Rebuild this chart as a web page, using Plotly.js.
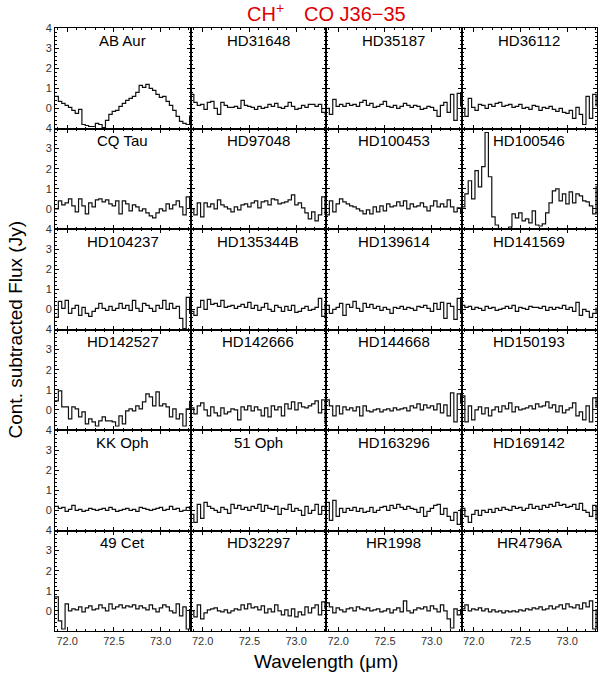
<!DOCTYPE html>
<html>
<head>
<meta charset="utf-8">
<script src="https://cdn.plot.ly/plotly-3.0.1.min.js"></script>
<style>
  body { margin: 0; background: #fff; }
  #plot { width: 600px; height: 681px; }
</style>
</head>
<body>
<div id="plot"></div>
<script>
// Wavelength grid (micron), one sample per spectral bin
var wave = [71.870, 71.906, 71.942, 71.978, 72.014, 72.050, 72.086, 72.122, 72.158, 72.194,
            72.230, 72.266, 72.302, 72.338, 72.374, 72.410, 72.446, 72.482, 72.518, 72.554,
            72.590, 72.626, 72.662, 72.698, 72.734, 72.770, 72.806, 72.842, 72.878, 72.914,
            72.950, 72.986, 73.022, 73.058, 73.094, 73.130, 73.166, 73.202, 73.238, 73.274, 73.310];

// Star names, row by row
var names = ['AB Aur', 'HD31648', 'HD35187', 'HD36112',
             'CQ Tau', 'HD97048', 'HD100453', 'HD100546',
             'HD104237', 'HD135344B', 'HD139614', 'HD141569',
             'HD142527', 'HD142666', 'HD144668', 'HD150193',
             'KK Oph', '51 Oph', 'HD163296', 'HD169142',
             '49 Cet', 'HD32297', 'HR1998', 'HR4796A'];

// Continuum subtracted flux (Jy) for each star
var fABAur = [0.6, 0.35, 0.25, 0.15, 0.05, -0.1, -0.25, -0.05, -0.8, -0.85, -0.9, -0.9, -0.75, -0.8, -0.95, -0.6, -0.3, -0.15, -0.1, 0.1, 0.25, 0.4, 0.5, 0.6, 0.8, 1.15, 1.05, 1.2, 1.0, 0.9, 0.7, 0.55, 0.6, 0.35, 0.15, -0.1, -0.4, -0.65, -0.75, -0.8, -0.35];
var fHD31648 = [0.7, 0.3, 0.15, 0.2, -0.05, 0.3, 0.35, 0.0, -0.3, 0.3, 0.15, 0.05, 0.05, 0.1, 0.0, 0.4, 0.15, 0.1, 0.05, -0.05, 0.1, 0.0, 0.05, 0.2, 0.1, 0.25, 0.05, 0.0, 0.1, 0.3, 0.1, -0.05, 0.0, 0.15, 0.05, 0.2, 0.2, 0.1, 0.2, -0.2, -0.3];
var fHD35187 = [0.0, -0.3, 0.45, 0.1, 0.2, 0.1, 0.25, 0.15, 0.2, 0.1, 0.3, 0.4, 0.15, 0.25, 0.05, 0.1, 0.2, 0.35, 0.1, 0.05, 0.15, 0.0, 0.1, 0.25, 0.15, 0.05, 0.15, 0.1, -0.05, 0.0, 0.1, 0.05, -0.1, -0.4, 0.15, 0.3, -0.2, 0.7, -0.6, 0.75, 0.1];
var fHD36112 = [0.0, -0.4, 0.5, 0.05, -0.1, 0.2, 0.15, 0.0, 0.2, 0.1, 0.25, 0.3, 0.1, 0.15, 0.2, 0.05, 0.1, 0.2, 0.0, 0.05, -0.05, 0.15, 0.1, -0.1, 0.05, 0.0, 0.1, -0.05, -0.15, 0.0, -0.2, -0.25, -0.1, -0.5, 0.05, -0.3, -0.8, 0.6, -0.5, 0.7, 0.1];
var fCQTau = [0.0, 0.4, 0.2, 0.3, 0.5, 0.15, -0.15, 0.5, 0.15, -0.25, 0.3, 0.1, 0.45, 0.5, 0.35, 0.45, 0.25, 0.15, 0.4, -0.25, 0.4, 0.25, -0.1, 0.2, 0.1, -0.1, 0.0, -0.2, -0.35, -0.45, -0.2, 0.0, -0.1, 0.25, 0.0, 0.2, 0.4, 0.1, -0.3, 0.6, 0.0];
var fHD97048 = [0.0, -0.3, 0.3, -0.4, 0.3, 0.1, 0.25, 0.0, 0.45, 0.2, 0.1, 0.0, -0.15, 0.1, -0.05, 0.2, 0.25, 0.1, 0.3, 0.4, 0.05, 0.35, 0.4, 0.2, 0.5, 0.45, 0.25, 0.3, 0.35, 0.45, 0.7, 0.2, 0.3, 0.05, -0.2, -0.5, -0.15, -0.6, -0.3, 0.6, -0.3];
var fHD100453 = [-0.3, 0.4, -0.15, 0.25, 0.5, 0.35, 0.25, 0.15, 0.1, 0.0, -0.1, -0.25, -0.05, -0.25, 0.1, -0.15, 0.15, -0.1, 0.25, 0.1, 0.15, 0.35, 0.15, 0.4, 0.0, 0.25, 0.1, 0.15, 0.3, 0.1, -0.1, 0.15, 0.4, 0.1, 0.25, 0.1, 0.45, 0.1, -0.15, 0.05, -0.25];
var fHD100546 = [0.1, 0.75, 1.4, 0.5, 1.9, 1.1, 2.1, 3.8, 1.6, -0.4, -0.8, -1.0, -1.0, -1.0, -0.9, -0.25, -0.45, -0.2, -0.6, -0.5, -0.7, -0.1, -0.8, -0.85, -0.75, -0.2, 0.3, 0.9, 1.0, 0.4, 0.75, 0.25, 0.85, 0.3, 0.75, 0.65, 0.4, 0.35, 0.15, -0.25, 1.15];
var fHD104237 = [-0.4, 0.4, 0.05, 0.45, -0.2, 0.05, 0.2, -0.3, 0.1, -0.2, -0.35, -0.1, 0.05, 0.3, 0.05, -0.05, 0.15, -0.05, 0.05, 0.3, 0.05, 0.2, -0.05, 0.45, 0.05, -0.1, 0.3, 0.2, 0.05, -0.1, 0.2, 0.05, 0.45, 0.0, 0.3, 0.05, 0.15, -0.45, -0.95, 0.6, -0.2];
var fHD135344B = [-0.1, -0.3, 0.1, 0.45, 0.0, 0.5, 0.25, 0.3, 0.15, 0.45, 0.1, 0.15, 0.2, 0.05, 0.15, 0.25, 0.1, 0.35, 0.05, 0.2, -0.05, 0.1, 0.3, 0.0, -0.1, 0.2, 0.1, -0.1, 0.15, -0.05, 0.2, -0.15, -0.1, 0.05, 0.15, -0.05, 0.0, 0.1, 0.55, -0.35, 0.3];
var fHD139614 = [0.2, -0.2, 0.0, 0.1, 0.3, -0.3, 0.25, 0.1, 0.4, 0.05, -0.1, 0.3, 0.1, 0.25, 0.05, 0.15, -0.05, 0.1, 0.0, -0.2, 0.1, 0.05, 0.15, 0.0, 0.1, 0.05, -0.05, 0.15, 0.1, 0.2, 0.05, -0.1, 0.3, 0.0, 0.35, -0.45, 0.3, 0.15, -0.5, 0.55, -0.2];
var fHD141569 = [0.2, 0.1, 0.15, 0.0, 0.1, 0.05, -0.05, 0.15, 0.05, 0.1, -0.05, 0.0, 0.05, 0.15, 0.05, 0.2, -0.1, 0.1, 0.05, 0.0, 0.15, 0.1, 0.1, 0.05, 0.15, -0.05, 0.1, 0.0, 0.1, 0.05, 0.2, 0.0, 0.1, -0.1, 0.35, -0.3, 0.0, -0.1, -0.4, -0.2, 0.1];
var fHD142527 = [0.45, 0.95, 0.15, 0.15, -0.45, 0.15, 0.05, -0.35, -0.1, -0.7, -0.45, -0.6, -0.8, -0.55, -0.35, -0.55, -0.55, -0.6, -0.8, -0.3, -0.7, -0.05, 0.05, -0.05, 0.2, 0.05, 0.4, 0.8, 0.65, 0.2, 0.9, 0.2, 0.3, 0.15, -0.35, 0.05, -0.45, -0.2, -0.8, 0.05, 0.45];
var fHD142666 = [0.1, -0.2, 0.2, 0.35, 0.0, -0.3, 0.15, -0.15, -0.3, 0.1, -0.2, -0.1, 0.05, 0.0, -0.5, 0.15, 0.0, 0.2, -0.05, 0.15, 0.0, -0.3, 0.1, -0.35, 0.2, 0.0, 0.15, -0.3, 0.3, 0.05, 0.4, 0.0, 0.35, 0.15, 0.1, 0.2, 0.3, 0.45, -0.15, 0.5, -0.7];
var fHD144668 = [0.5, 0.2, -0.3, 0.2, -0.2, 0.15, 0.0, 0.1, -0.05, 0.15, -0.3, 0.2, -0.05, -0.1, 0.0, 0.05, -0.1, 0.0, 0.05, -0.05, 0.1, 0.0, 0.05, 0.1, -0.05, 0.2, 0.1, 0.3, 0.0, 0.25, 0.1, 0.2, 0.0, 0.3, -0.15, 0.25, -0.3, 0.85, -0.6, 0.8, 0.3];
var fHD150193 = [0.7, -0.6, 0.2, -0.5, 0.0, 0.15, -0.2, 0.1, -0.3, 0.0, 0.15, -0.1, 0.2, 0.05, 0.35, -0.1, 0.15, 0.0, 0.05, 0.1, 0.2, 0.05, 0.3, 0.15, 0.2, 0.4, 0.1, 0.25, -0.1, 0.2, -0.15, 0.0, 0.1, 0.35, -0.3, -0.1, -0.5, 0.2, -0.6, 0.6, 0.1];
var fKKOph = [0.2, 0.1, 0.15, -0.05, 0.05, 0.25, 0.0, 0.05, -0.05, 0.0, 0.1, 0.05, 0.0, 0.05, 0.1, 0.0, 0.15, 0.05, -0.05, 0.0, 0.05, 0.1, 0.0, 0.05, -0.05, 0.15, 0.1, 0.05, 0.0, 0.05, 0.1, 0.15, 0.0, 0.05, 0.2, 0.05, 0.1, -0.05, 0.0, 0.15, 0.05];
var f51Oph = [-0.2, -0.6, 0.3, -0.4, 0.4, 0.2, 0.1, 0.0, -0.1, 0.15, 0.05, -0.15, 0.3, 0.1, 0.25, 0.05, 0.15, 0.0, 0.2, 0.1, 0.3, -0.05, 0.25, 0.1, 0.05, 0.2, -0.2, 0.1, 0.05, 0.3, -0.05, 0.1, 0.0, -0.25, 0.2, -0.15, 0.0, 0.3, -0.2, 0.2, 0.05];
var fHD163296 = [0.4, -0.5, 0.5, -0.3, 0.1, -0.1, 0.1, 0.0, 0.15, -0.05, 0.1, -0.1, -0.05, 0.15, -0.1, 0.0, 0.15, 0.2, 0.0, 0.25, 0.1, 0.3, 0.15, 0.05, 0.2, 0.1, 0.05, -0.1, 0.15, -0.3, -0.05, 0.1, 0.25, 0.3, -0.2, 0.1, -0.3, -0.5, -0.1, -0.7, 0.1];
var fHD169142 = [0.1, -0.3, -0.6, -0.2, 0.0, -0.25, 0.0, -0.1, 0.05, -0.1, 0.1, 0.0, 0.15, 0.05, 0.0, 0.2, 0.1, 0.15, 0.0, 0.1, 0.3, 0.1, 0.2, 0.05, 0.25, 0.15, 0.3, 0.2, 0.4, 0.25, 0.3, 0.15, 0.2, 0.3, 0.05, 0.35, 0.0, -0.1, -0.3, 0.25, -0.5];
var f49Cet = [0.7, -0.5, -0.9, 0.35, 0.0, 0.1, 0.05, 0.2, -0.05, 0.15, 0.25, 0.05, 0.1, 0.3, 0.15, 0.0, 0.35, 0.1, 0.2, 0.3, 0.15, 0.25, 0.2, 0.3, 0.1, 0.25, 0.15, 0.05, 0.3, 0.1, -0.05, 0.15, 0.3, 0.2, 0.0, -0.1, 0.35, -0.25, 0.2, -0.9, 0.1];
var fHD32297 = [0.0, -0.3, 0.3, -0.4, -0.1, 0.05, 0.1, 0.15, 0.0, -0.05, 0.05, -0.1, 0.0, 0.1, 0.05, 0.3, 0.1, 0.35, 0.15, 0.2, 0.05, 0.25, -0.1, 0.1, -0.05, 0.3, 0.0, -0.2, 0.05, -0.25, 0.1, -0.3, -0.05, -0.2, 0.2, -0.1, 0.15, 0.3, -0.2, 0.45, 0.1];
var fHR1998 = [0.4, 0.2, -0.1, 0.15, 0.05, -0.05, 0.1, 0.15, 0.0, 0.2, 0.1, 0.05, 0.15, 0.0, 0.05, 0.1, -0.05, 0.0, 0.1, -0.1, 0.05, 0.15, -0.05, 0.5, 0.0, -0.1, 0.05, 0.15, 0.1, 0.2, 0.0, 0.25, 0.1, -0.05, 0.3, 0.0, -0.4, -0.85, 0.1, -0.2, 0.1];
var fHR4796A = [0.1, 0.3, 0.0, 0.1, 0.05, 0.15, 0.0, 0.1, -0.05, 0.05, -0.05, 0.0, -0.1, 0.0, -0.05, 0.0, -0.05, 0.05, 0.0, 0.1, 0.05, 0.15, 0.1, 0.2, 0.05, 0.1, 0.25, 0.1, 0.2, 0.3, 0.1, 0.35, 0.2, 0.15, 0.3, 0.1, 0.4, 0.2, 0.5, -0.9, 0.1];

var fluxes = [fABAur, fHD31648, fHD35187, fHD36112,
              fCQTau, fHD97048, fHD100453, fHD100546,
              fHD104237, fHD135344B, fHD139614, fHD141569,
              fHD142527, fHD142666, fHD144668, fHD150193,
              fKKOph, f51Oph, fHD163296, fHD169142,
              f49Cet, fHD32297, fHR1998, fHR4796A];

var nCols = 4, nRows = 6;
var data = [];
var layout = {
    width: 600,
    height: 681,
    margin: { l: 55, r: 3, t: 28, b: 50 },
    paper_bgcolor: '#fff',
    plot_bgcolor: '#fff',
    showlegend: false,
    font: { family: 'Liberation Sans, Arial, sans-serif', color: '#000' },
    annotations: []
};

for (var k = 0; k < names.length; k++) {
    var r = Math.floor(k / nCols);
    var c = k % nCols;
    var sfx = k === 0 ? '' : String(k + 1);

    data.push({
        x: wave,
        y: fluxes[k],
        xaxis: 'x' + sfx,
        yaxis: 'y' + sfx,
        mode: 'lines',
        type: 'scatter',
        line: { shape: 'hv', color: '#111', width: 1.2 },
        hoverinfo: 'skip'
    });

    layout['xaxis' + sfx] = {
        domain: [c / nCols, (c + 1) / nCols],
        anchor: 'y' + sfx,
        range: [71.87, 73.32],
        tickvals: [72.0, 72.5, 73.0],
        ticktext: ['72.0', '72.5', '73.0'],
        showticklabels: r === nRows - 1,
        ticks: 'inside',
        ticklen: 4,
        tickcolor: '#000',
        minor: { dtick: 0.1, tick0: 72.0, ticks: 'inside', ticklen: 2, tickcolor: '#000' },
        showline: true,
        linecolor: '#000',
        linewidth: 1,
        mirror: 'allticks',
        showgrid: false,
        zeroline: false,
        tickfont: { size: 11, color: '#333' }
    };
    layout['yaxis' + sfx] = {
        domain: [1 - (r + 1) / nRows, 1 - r / nRows],
        anchor: 'x' + sfx,
        range: [-1, 4],
        tickvals: [0, 1, 2, 3, 4],
        showticklabels: c === 0,
        ticks: 'inside',
        ticklen: 4,
        tickcolor: '#000',
        minor: { dtick: 0.2, tick0: 0, ticks: 'inside', ticklen: 2, tickcolor: '#000' },
        showline: true,
        linecolor: '#000',
        linewidth: 1,
        mirror: 'allticks',
        showgrid: false,
        zeroline: false,
        tickfont: { size: 11, color: '#333' }
    };

    layout.annotations.push({
        text: names[k],
        xref: 'x' + sfx + ' domain',
        yref: 'y' + sfx + ' domain',
        x: 0.5,
        y: 0.88,
        xanchor: 'center',
        yanchor: 'middle',
        showarrow: false,
        font: { size: 15, color: '#000' }
    });
}

// Line labels above the grid
layout.annotations.push({
    text: 'CH<sup>+</sup>', xref: 'paper', yref: 'paper',
    x: 0.389, y: 1, yshift: 16, xanchor: 'center', yanchor: 'middle',
    showarrow: false, font: { size: 20, color: '#dd0000' }
});
layout.annotations.push({
    text: 'CO J36\u221235', xref: 'paper', yref: 'paper',
    x: 0.553, y: 1, yshift: 14, xanchor: 'center', yanchor: 'middle',
    showarrow: false, font: { size: 20, color: '#dd0000' }
});

// Shared axis titles
layout.annotations.push({
    text: 'Cont. subtracted Flux (Jy)', xref: 'paper', yref: 'paper',
    x: 0, y: 0.5, xshift: -40, textangle: -90, xanchor: 'center', yanchor: 'middle',
    showarrow: false, font: { size: 19, color: '#000' }
});
layout.annotations.push({
    text: 'Wavelength (\u03bcm)', xref: 'paper', yref: 'paper',
    x: 0.5, y: 0, yshift: -30, xanchor: 'center', yanchor: 'middle',
    showarrow: false, font: { size: 19, color: '#000' }
});

Plotly.newPlot('plot', data, layout, { displayModeBar: false, staticPlot: true });
</script>
</body>
</html>
